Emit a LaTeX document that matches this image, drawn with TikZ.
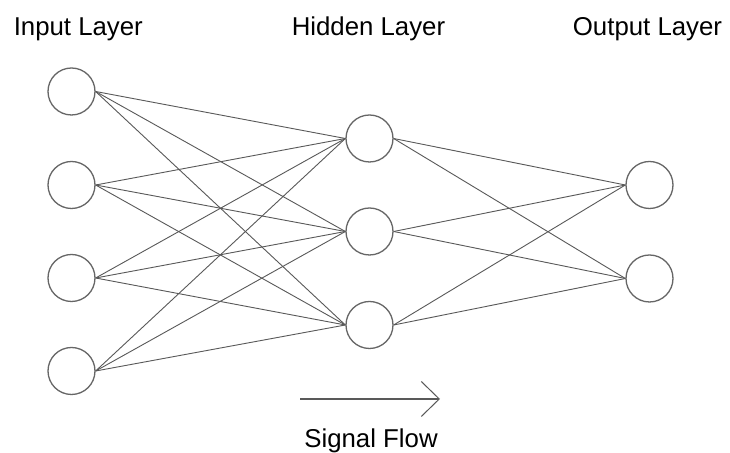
\documentclass[tikz,border=0pt]{standalone}
\usepackage{fontspec}
\setmainfont{Liberation Sans}
\usetikzlibrary{arrows.meta}
\begin{document}
\begin{tikzpicture}[x=0.5pt,y=-0.5pt,
  neuron/.style={circle,draw=black!60,line width=0.65pt,minimum size=23.5pt,inner sep=0pt},
  conn/.style={draw=black!65,line width=0.45pt},
  lbl/.style={font=\fontsize{12.9pt}{15pt}\selectfont,inner sep=0pt,anchor=base}]
\fill[white] (0,0) rectangle (730,453);
\useasboundingbox (0,0) rectangle (730,453);
% labels
\node[lbl] (tin) at (78.3,36) {Input Layer};
\node[lbl] (thid) at (368.5,36) {Hidden Layer};
\node[lbl] (tout) at (647.5,36) {Output Layer};
\node[lbl] (tsig) at (371,448) {Signal Flow};
% neurons
\node[neuron] (i1) at (71.5,91.5) {};
\node[neuron] (i2) at (71.5,185) {};
\node[neuron] (i3) at (71.5,278) {};
\node[neuron] (i4) at (71.5,371) {};
\node[neuron] (h1) at (369.5,138.5) {};
\node[neuron] (h2) at (369.5,231.5) {};
\node[neuron] (h3) at (369.5,325) {};
\node[neuron] (o1) at (649.5,185) {};
\node[neuron] (o2) at (649.5,278.5) {};
% connections
\foreach \i in {1,2,3,4}{
  \foreach \h in {1,2,3}{
    \draw[conn] (i\i.east) -- (h\h.west);
  }
}
\foreach \h in {1,2,3}{
  \foreach \o in {1,2}{
    \draw[conn] (h\h.east) -- (o\o.west);
  }
}
% signal flow arrow
\coordinate (fa) at (300,399);
\coordinate (fb) at (440,399);
\draw[black!65,line width=0.6pt,-{Straight Barb[length=9pt,width=17.5pt,line width=0.5pt]}] (fa) -- (fb);
\end{tikzpicture}
\end{document}
